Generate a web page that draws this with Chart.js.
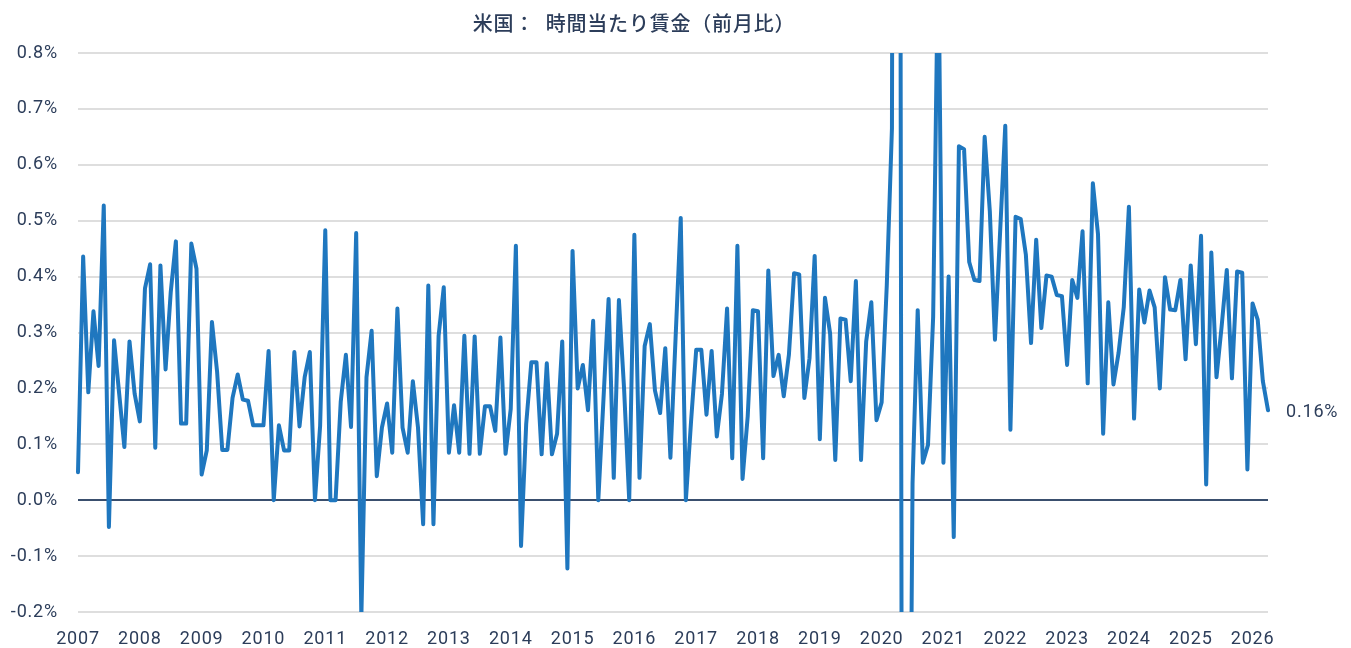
<!DOCTYPE html>
<html>
<head>
<meta charset="utf-8">
<script src="https://cdn.jsdelivr.net/npm/chart.js@4.4.1/dist/chart.umd.min.js"></script>
<style>
  html, body { margin: 0; padding: 0; background: #ffffff; }
  #wrap { width: 1351px; height: 648px; position: relative; }
</style>
</head>
<body>
<div id="wrap"><canvas id="c"></canvas></div>
<script>
// ---- data ----
const titleText = '米国：  時間当たり賃金（前月比）';
const yearLabels = ['2007','2008','2009','2010','2011','2012','2013','2014','2015','2016','2017','2018','2019','2020','2021','2022','2023','2024','2025','2026'];
const yTicks = [-0.2, -0.1, 0.0, 0.1, 0.2, 0.3, 0.4, 0.5, 0.6, 0.7, 0.8];
// monthly change in average hourly earnings (%), Jan 2007 - Apr 2026
const wageMoM = [
  0.05, 0.436, 0.193, 0.338, 0.24, 0.527, -0.048, 0.286, 0.19, 0.095, 0.284, 0.19,
  0.141, 0.379, 0.422, 0.094, 0.42, 0.234, 0.372, 0.463, 0.137, 0.137, 0.459, 0.414,
  0.046, 0.089, 0.319, 0.23, 0.09, 0.09, 0.183, 0.225, 0.18, 0.178, 0.134, 0.134,
  0.134, 0.267, 0.0, 0.134, 0.089, 0.089, 0.265, 0.132, 0.22, 0.265, 0.0, 0.133,
  0.483, 0.0, 0.0, 0.176, 0.26, 0.131, 0.478, -0.21, 0.22, 0.303, 0.043, 0.13,
  0.173, 0.085, 0.343, 0.13, 0.085, 0.213, 0.13, -0.043, 0.384, -0.043, 0.294, 0.381,
  0.085, 0.17, 0.085, 0.294, 0.083, 0.293, 0.083, 0.168, 0.168, 0.124, 0.291, 0.083,
  0.163, 0.455, -0.082, 0.136, 0.247, 0.247, 0.082, 0.245, 0.082, 0.119, 0.284, -0.122,
  0.446, 0.2, 0.242, 0.161, 0.321, 0.0, 0.18, 0.36, 0.04, 0.358, 0.2, 0.0,
  0.475, 0.04, 0.276, 0.315, 0.196, 0.156, 0.272, 0.076, 0.29, 0.505, 0.0, 0.14,
  0.269, 0.269, 0.153, 0.267, 0.114, 0.19, 0.343, 0.075, 0.455, 0.038, 0.15, 0.34,
  0.338, 0.075, 0.411, 0.222, 0.26, 0.186, 0.26, 0.406, 0.404, 0.183, 0.254, 0.437,
  0.109, 0.362, 0.298, 0.072, 0.325, 0.323, 0.213, 0.392, 0.072, 0.284, 0.354, 0.143,
  0.175, 0.385, 0.665, 4.7, -1.0, -1.2, 0.03, 0.34, 0.067, 0.099, 0.328, 1.0,
  0.067, 0.4, -0.066, 0.633, 0.628, 0.426, 0.394, 0.392, 0.65, 0.517, 0.287, 0.48,
  0.67, 0.126, 0.507, 0.503, 0.439, 0.281, 0.466, 0.308, 0.402, 0.4, 0.367, 0.365,
  0.242, 0.394, 0.362, 0.481, 0.209, 0.567, 0.476, 0.119, 0.354, 0.207, 0.264, 0.345,
  0.525, 0.146, 0.377, 0.318, 0.375, 0.345, 0.2, 0.399, 0.341, 0.34, 0.394, 0.252,
  0.42, 0.279, 0.473, 0.028, 0.443, 0.22, 0.311, 0.412, 0.218, 0.409, 0.407, 0.055,
  0.352, 0.323, 0.213, 0.161
];
const lastLabel = '0.16%';

// month categories built from the year labels
const months = [];
yearLabels.forEach(y => { for (let m = 1; m <= 12; m++) months.push(y + '-' + String(m).padStart(2, '0')); });
const categories = months.slice(0, wageMoM.length);

const navy = '#2c3d5a';
const lineBlue = '#1f77bf';
const numFont = 'Roboto, "Noto Sans", sans-serif';

const spacingPlugin = {
  id: 'spacing',
  beforeDraw(chart) { try { chart.ctx.letterSpacing = '0.8px'; } catch (e) {} }
};

const lastValuePlugin = {
  id: 'lastValue',
  afterDatasetsDraw(chart) {
    const meta = chart.getDatasetMeta(0);
    const pt = meta.data[meta.data.length - 1];
    const ctx = chart.ctx;
    ctx.save();
    try { ctx.letterSpacing = '0.8px'; } catch (e) {}
    ctx.font = '400 18px ' + numFont;
    ctx.fillStyle = navy;
    ctx.textAlign = 'left';
    ctx.textBaseline = 'middle';
    ctx.fillText(lastLabel, pt.x + 18, pt.y + 2);
    ctx.restore();
  }
};

new Chart(document.getElementById('c'), {
  type: 'line',
  data: {
    labels: categories,
    datasets: [{
      data: wageMoM,
      borderColor: lineBlue,
      backgroundColor: lineBlue,
      borderWidth: 4,
      pointRadius: 0,
      tension: 0,
      borderJoinStyle: 'round',
      borderCapStyle: 'round',
      clip: { left: 5, right: 5, top: 0, bottom: 0 }
    }]
  },
  options: {
    responsive: true,
    maintainAspectRatio: false,
    animation: false,
    layout: { padding: { left: 0, right: 83, top: 0, bottom: 0 } },
    plugins: {
      legend: { display: false },
      tooltip: { enabled: false },
      title: {
        display: true,
        text: titleText,
        color: navy,
        font: { family: '"Noto Sans CJK JP", "Noto Sans", sans-serif', size: 20, weight: '500' },
        padding: { top: 11, bottom: 18 }
      }
    },
    scales: {
      x: {
        type: 'category',
        offset: false,
        grid: { display: false, drawTicks: false },
        border: { display: false },
        ticks: {
          autoSkip: false,
          maxRotation: 0,
          minRotation: 0,
          padding: 17,
          color: navy,
          font: { family: numFont, size: 18 },
          callback: function (value) {
            const lab = this.getLabelForValue(value);
            return lab.endsWith('-01') ? lab.slice(0, 4) : '';
          }
        },
        afterFit(scale) { scale.height = 36; }
      },
      y: {
        min: -0.2,
        max: 0.8,
        afterBuildTicks(scale) { scale.ticks = yTicks.map(v => ({ value: v })); },
        grid: {
          drawTicks: false,
          color: ctx => (ctx.tick && Math.abs(ctx.tick.value) < 1e-9) ? '#3a4f6e' : '#dedede',
          lineWidth: 2
        },
        border: { display: false },
        ticks: {
          padding: 20,
          color: navy,
          font: { family: numFont, size: 18 },
          callback: v => v.toFixed(1) + '%'
        },
        afterFit(scale) { scale.width = 78; }
      }
    }
  },
  plugins: [spacingPlugin, lastValuePlugin]
});
</script>
</body>
</html>
